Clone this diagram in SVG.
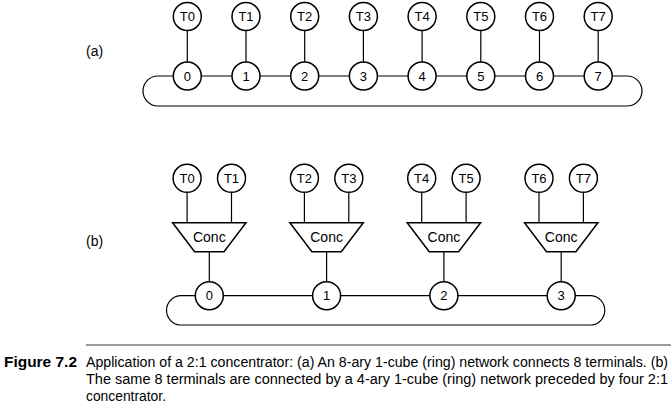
<svg xmlns="http://www.w3.org/2000/svg" width="671" height="410" viewBox="0 0 671 410">
<style>
.n{fill:#fff;stroke:#000;stroke-width:1.5}
.w{fill:none;stroke:#000;stroke-width:1.2}
.t{font-family:"Liberation Sans",Arial,sans-serif;font-size:13px;fill:#000;text-anchor:middle}
.c{font-family:"Liberation Sans",Arial,sans-serif;font-size:14px;fill:#000;text-anchor:middle}
.lab{font-family:"Liberation Sans",Arial,sans-serif;font-size:14px;fill:#000}
.cap{font-family:"Liberation Sans",Arial,sans-serif;font-size:14px;fill:#000}
</style>
<rect width="671" height="410" fill="#fff"/>
<text class="lab" x="86" y="56">(a)</text>
<text class="lab" x="86" y="246">(b)</text>
<g id="connectors">
<path class="w" d="M158,76 L627,76 A15,15 0 0 1 627,106 L158,106 A15,15 0 0 1 158,76"/>
<path class="w" d="M187.3,30.5V62 M246,30.5V62 M304.7,30.5V62 M363.4,30.5V62 M422.1,30.5V62 M480.8,30.5V62 M539.5,30.5V62 M598.2,30.5V62"/>
<path class="w" d="M180,295.7 L591.3,295.7 A14.7,14.7 0 0 1 591.3,325 L180,325 A14.7,14.7 0 0 1 180,295.7"/>
<path class="w" d="M187.1,192.3V222.7 M231.5,192.3V222.7 M304.4,192.3V222.7 M348.8,192.3V222.7 M421.7,192.3V222.7 M466.1,192.3V222.7 M539,192.3V222.7 M583.4,192.3V222.7"/>
<path class="w" d="M209.3,251.7V281.7 M326.6,251.7V281.7 M443.9,251.7V281.7 M561.2,251.7V281.7"/>
<line x1="86" y1="345" x2="671" y2="345" stroke="#777" stroke-width="1.5"/>
</g>
<g id="a-T0"><circle class="n" cx="187.3" cy="16.5" r="14"/><text class="t" x="187.3" y="21">T0</text></g>
<g id="a-T1"><circle class="n" cx="246" cy="16.5" r="14"/><text class="t" x="246" y="21">T1</text></g>
<g id="a-T2"><circle class="n" cx="304.7" cy="16.5" r="14"/><text class="t" x="304.7" y="21">T2</text></g>
<g id="a-T3"><circle class="n" cx="363.4" cy="16.5" r="14"/><text class="t" x="363.4" y="21">T3</text></g>
<g id="a-T4"><circle class="n" cx="422.1" cy="16.5" r="14"/><text class="t" x="422.1" y="21">T4</text></g>
<g id="a-T5"><circle class="n" cx="480.8" cy="16.5" r="14"/><text class="t" x="480.8" y="21">T5</text></g>
<g id="a-T6"><circle class="n" cx="539.5" cy="16.5" r="14"/><text class="t" x="539.5" y="21">T6</text></g>
<g id="a-T7"><circle class="n" cx="598.2" cy="16.5" r="14"/><text class="t" x="598.2" y="21">T7</text></g>
<g id="a-R0"><circle class="n" cx="187.3" cy="76" r="14"/><text class="t" x="187.3" y="80.5">0</text></g>
<g id="a-R1"><circle class="n" cx="246" cy="76" r="14"/><text class="t" x="246" y="80.5">1</text></g>
<g id="a-R2"><circle class="n" cx="304.7" cy="76" r="14"/><text class="t" x="304.7" y="80.5">2</text></g>
<g id="a-R3"><circle class="n" cx="363.4" cy="76" r="14"/><text class="t" x="363.4" y="80.5">3</text></g>
<g id="a-R4"><circle class="n" cx="422.1" cy="76" r="14"/><text class="t" x="422.1" y="80.5">4</text></g>
<g id="a-R5"><circle class="n" cx="480.8" cy="76" r="14"/><text class="t" x="480.8" y="80.5">5</text></g>
<g id="a-R6"><circle class="n" cx="539.5" cy="76" r="14"/><text class="t" x="539.5" y="80.5">6</text></g>
<g id="a-R7"><circle class="n" cx="598.2" cy="76" r="14"/><text class="t" x="598.2" y="80.5">7</text></g>
<g id="b-T0"><circle class="n" cx="187.1" cy="178.3" r="14"/><text class="t" x="187.1" y="182.8">T0</text></g>
<g id="b-T1"><circle class="n" cx="231.5" cy="178.3" r="14"/><text class="t" x="231.5" y="182.8">T1</text></g>
<g id="b-T2"><circle class="n" cx="304.4" cy="178.3" r="14"/><text class="t" x="304.4" y="182.8">T2</text></g>
<g id="b-T3"><circle class="n" cx="348.8" cy="178.3" r="14"/><text class="t" x="348.8" y="182.8">T3</text></g>
<g id="b-T4"><circle class="n" cx="421.7" cy="178.3" r="14"/><text class="t" x="421.7" y="182.8">T4</text></g>
<g id="b-T5"><circle class="n" cx="466.1" cy="178.3" r="14"/><text class="t" x="466.1" y="182.8">T5</text></g>
<g id="b-T6"><circle class="n" cx="539" cy="178.3" r="14"/><text class="t" x="539" y="182.8">T6</text></g>
<g id="b-T7"><circle class="n" cx="583.4" cy="178.3" r="14"/><text class="t" x="583.4" y="182.8">T7</text></g>
<g id="b-C0"><polygon class="n" points="172.6,222.7 246,222.7 224,251.7 194.6,251.7"/><text class="c" x="209.3" y="242">Conc</text></g>
<g id="b-C1"><polygon class="n" points="289.9,222.7 363.3,222.7 341.3,251.7 311.9,251.7"/><text class="c" x="326.6" y="242">Conc</text></g>
<g id="b-C2"><polygon class="n" points="407.2,222.7 480.6,222.7 458.6,251.7 429.2,251.7"/><text class="c" x="443.9" y="242">Conc</text></g>
<g id="b-C3"><polygon class="n" points="524.5,222.7 597.9,222.7 575.9,251.7 546.5,251.7"/><text class="c" x="561.2" y="242">Conc</text></g>
<g id="b-R0"><circle class="n" cx="209.3" cy="295.7" r="14"/><text class="t" x="209.3" y="300.2">0</text></g>
<g id="b-R1"><circle class="n" cx="326.6" cy="295.7" r="14"/><text class="t" x="326.6" y="300.2">1</text></g>
<g id="b-R2"><circle class="n" cx="443.9" cy="295.7" r="14"/><text class="t" x="443.9" y="300.2">2</text></g>
<g id="b-R3"><circle class="n" cx="561.2" cy="295.7" r="14"/><text class="t" x="561.2" y="300.2">3</text></g>
<text class="cap" x="4" y="367" font-weight="bold" textLength="73" lengthAdjust="spacingAndGlyphs">Figure 7.2</text>
<text class="cap" x="86" y="367" textLength="582" lengthAdjust="spacingAndGlyphs">Application of a 2:1 concentrator: (a) An 8-ary 1-cube (ring) network connects 8 terminals. (b)</text>
<text class="cap" x="86" y="384" textLength="582" lengthAdjust="spacingAndGlyphs">The same 8 terminals are connected by a 4-ary 1-cube (ring) network preceded by four 2:1</text>
<text class="cap" x="86" y="401" textLength="80" lengthAdjust="spacingAndGlyphs">concentrator.</text>
</svg>
